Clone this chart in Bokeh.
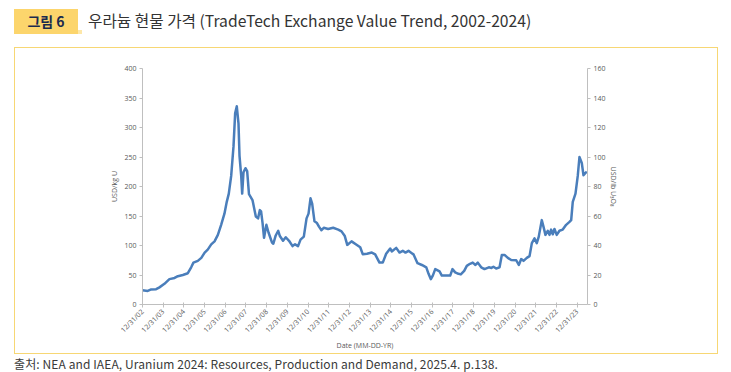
import math
import pandas as pd
from bokeh.plotting import figure
from bokeh.layouts import column
from bokeh.models import (Range1d, LinearAxis, FixedTicker, DatetimeTickFormatter, Div)
from bokeh.embed import file_html
from bokeh.resources import INLINE

# ---------------- data ----------------
dates = [
    "2002-12-31", "2003-04-03", "2003-06-02", "2003-08-29", "2003-10-26",
    "2004-01-22", "2004-04-19", "2004-07-19", "2004-09-15", "2004-12-12",
    "2005-03-10", "2005-05-08", "2005-06-17", "2005-09-02", "2005-11-03",
    "2006-01-01", "2006-02-24", "2006-04-27", "2006-06-24", "2006-08-22", "2006-10-19", "2006-12-16",
    "2007-01-26", "2007-03-03", "2007-04-14", "2007-05-25", "2007-06-23", "2007-07-22",
    "2007-08-21", "2007-09-08", "2007-10-08", "2007-10-25", "2007-11-17", "2007-12-22",
    "2008-01-21", "2008-02-22", "2008-04-24", "2008-06-22", "2008-07-31", "2008-09-01",
    "2008-09-22", "2008-10-19", "2008-11-14", "2008-12-25",
    "2009-02-01", "2009-04-04", "2009-04-27", "2009-06-08", "2009-07-22", "2009-08-20",
    "2009-10-15", "2009-12-02",
    "2010-01-29", "2010-04-01", "2010-05-15", "2010-07-07", "2010-08-20", "2010-10-17", "2010-12-04",
    "2011-01-08", "2011-02-12", "2011-03-13", "2011-04-23", "2011-06-06", "2011-07-11",
    "2011-08-24", "2011-10-04", "2011-12-20",
    "2012-03-18", "2012-06-15", "2012-08-12", "2012-10-09", "2012-11-21",
    "2013-02-05", "2013-04-21", "2013-07-08", "2013-08-23", "2013-11-05",
    "2014-01-29", "2014-03-29", "2014-06-13", "2014-08-10", "2014-10-09", "2014-12-19",
    "2015-01-16", "2015-04-04", "2015-06-01", "2015-07-29", "2015-09-15", "2015-11-07",
    "2016-01-04", "2016-02-03", "2016-04-14", "2016-06-30", "2016-09-16", "2016-10-26", "2016-12-06",
    "2017-01-09", "2017-02-21", "2017-05-08", "2017-06-17", "2017-09-13", "2017-11-12", "2017-12-22",
    "2018-02-08", "2018-04-07", "2018-05-18", "2018-07-17", "2018-09-01", "2018-10-27", "2018-12-15",
    "2019-02-01", "2019-03-14", "2019-05-13", "2019-07-10", "2019-09-25", "2019-11-10", "2019-12-15",
    "2020-02-01", "2020-04-01", "2020-05-11", "2020-06-28", "2020-08-25", "2020-10-24",
    "2021-01-20", "2021-03-07", "2021-04-18", "2021-05-29", "2021-07-26", "2021-09-12",
    "2021-10-23", "2021-12-09",
    "2022-01-18", "2022-02-22", "2022-04-16", "2022-05-16", "2022-06-20", "2022-07-31",
    "2022-08-30", "2022-09-28", "2022-10-27", "2022-11-26",
    "2023-01-05", "2023-02-22", "2023-04-21", "2023-06-20", "2023-08-18", "2023-09-17",
    "2023-10-15", "2023-12-02",
    "2024-01-11", "2024-02-10", "2024-03-22", "2024-04-21", "2024-05-27", "2024-06-19",
]

price_usd_per_kgU = [
    24, 23, 25.5, 26, 29,
    35, 43, 45, 48, 50,
    53, 63, 71, 74, 79,
    88, 93, 102, 107, 118, 135, 154,
    174, 188, 218, 268, 324, 336, 307, 252, 218, 188, 224, 231,
    226, 187, 177, 149, 146, 160, 158, 138, 113, 135,
    122, 105, 103, 117, 125, 116, 108, 114,
    108, 99, 102, 99, 110, 115, 146,
    154, 180, 171, 141, 138, 132, 126, 130, 128,
    130, 127, 124, 116, 101,
    107, 102, 97, 85, 86,
    88, 85, 71, 71, 86, 95,
    90, 96, 88, 91, 88, 91,
    87, 85, 70, 67, 63, 52, 43,
    49, 60, 56, 49, 49, 49, 60,
    54.5, 52, 51, 57, 65.5, 69, 71,
    67, 71, 63, 60, 63, 62, 64,
    61, 63, 84, 84, 79, 75.5,
    75, 67, 77, 74, 79, 82, 104, 112,
    104, 115, 143, 132, 118, 125, 118, 127, 119, 128,
    118, 125, 127, 135, 140, 143, 174, 188,
    218, 250, 240, 219, 223, 225,
]

x_tick_dates = [f"{y}-12-31" for y in range(2002, 2024)]
left_ticks = [0, 50, 100, 150, 200, 250, 300, 350, 400]
right_ticks = [0, 20, 40, 60, 80, 100, 120, 140, 160]

x_start, x_end = "2002-12-31", "2024-07-01"
left_max, right_max = 400, 160

title_tag = "그림 6"
title_text = "우라늄 현물 가격 (TradeTech Exchange Value Trend, 2002-2024)"
source_text = "출처: NEA and IAEA, Uranium 2024: Resources, Production and Demand, 2025.4. p.138."
left_label = "USD/kg U"
right_label = "USD/lb U\u2083O\u2088"
x_label = "Date (MM-DD-YR)"

BORDER = "#f7d774"

# ---------------- header / footer ----------------
KFONT = "'Noto Sans CJK KR', 'Noto Sans', sans-serif"
header = Div(width=731, height=47, margin=0, text=(
    '<div style="position:relative;width:731px;height:47px;">'
    f'<div style="position:absolute;left:14px;top:9px;width:64px;height:25px;'
    f'background:#fcd56c;color:#1b2a4e;font-family:{KFONT};font-weight:bold;'
    f'font-size:14px;line-height:25px;text-align:center;">{title_tag}</div>'
    '<div style="position:absolute;left:78px;top:30px;width:4px;height:4px;'
    'background:#fde7a8;"></div>'
    f'<div style="position:absolute;left:88px;top:8px;height:26px;line-height:26px;'
    f'font-family:{KFONT};font-size:15.7px;color:#333333;white-space:nowrap;">{title_text}</div>'
    '</div>'))

footer = Div(width=731, height=19, margin=0, text=(
    '<div style="position:relative;width:731px;height:19px;">'
    f'<div style="position:absolute;left:14px;top:4px;height:14px;line-height:14px;'
    f'font-family:{KFONT};font-size:12px;color:#3a3a3a;white-space:nowrap;'
    f'letter-spacing:0.1px;">{source_text}</div>'
    '</div>'))

# ---------------- figure ----------------
W, H = 702, 305
FL, FR, FT, FB = 127, 572, 20, 259   # frame box inside the figure canvas

p = figure(width=W, height=H, x_axis_type="datetime", output_backend="svg",
           toolbar_location=None,
           x_range=Range1d(pd.Timestamp(x_start), pd.Timestamp(x_end)),
           y_range=Range1d(0, left_max),
           min_border_left=FL, min_border_right=W - FR,
           min_border_top=FT, min_border_bottom=H - FB,
           margin=(1, 0, 0, 15),
           styles={"outline": f"1.5px solid {BORDER}", "outline-offset": "0px"})
p.outline_line_color = None
p.grid.visible = False
p.background_fill_color = "white"
p.border_fill_color = "white"

xs = pd.to_datetime(dates)
p.line(xs, price_usd_per_kgU, line_color="#4a7ebb", line_width=2.5, line_join="round")

axis_color = "#bfbfbf"
label_color = "#595959"
tick_font = "Open Sans"

xa = p.xaxis[0]
xa.ticker = FixedTicker(ticks=[pd.Timestamp(d).value / 1e6 for d in x_tick_dates])
fmt = "%m/%d/%y"
xa.formatter = DatetimeTickFormatter(milliseconds=fmt, seconds=fmt, minsec=fmt, minutes=fmt,
                                     hourmin=fmt, hours=fmt, days=fmt, months=fmt, years=fmt)
xa.major_label_orientation = math.pi / 4
xa.axis_label = x_label

ya = p.yaxis[0]
ya.ticker = FixedTicker(ticks=left_ticks)
ya.axis_label = left_label

p.extra_y_ranges = {"r": Range1d(0, right_max)}
ra = LinearAxis(y_range_name="r", ticker=FixedTicker(ticks=right_ticks), axis_label=right_label)
p.add_layout(ra, "right")

for ax in (xa, ya, ra):
    ax.axis_line_color = axis_color
    ax.major_tick_line_color = axis_color
    ax.minor_tick_line_color = None
    ax.major_tick_in = 0
    ax.major_tick_out = 3
    ax.major_label_text_font = tick_font
    ax.major_label_text_font_size = "7px"
    ax.major_label_text_color = label_color
    ax.axis_label_text_font = tick_font
    ax.axis_label_text_font_size = "7px"
    ax.axis_label_text_font_style = "normal"
    ax.axis_label_text_color = label_color
    ax.major_label_standoff = 3
xa.major_tick_in = 2
xa.axis_label_standoff = 1
ya.axis_label_standoff = 2
ra.axis_label_standoff = 0

layout = column(header, p, footer, spacing=0, margin=0)
open("out.html", "w").write(file_html(layout, INLINE))
